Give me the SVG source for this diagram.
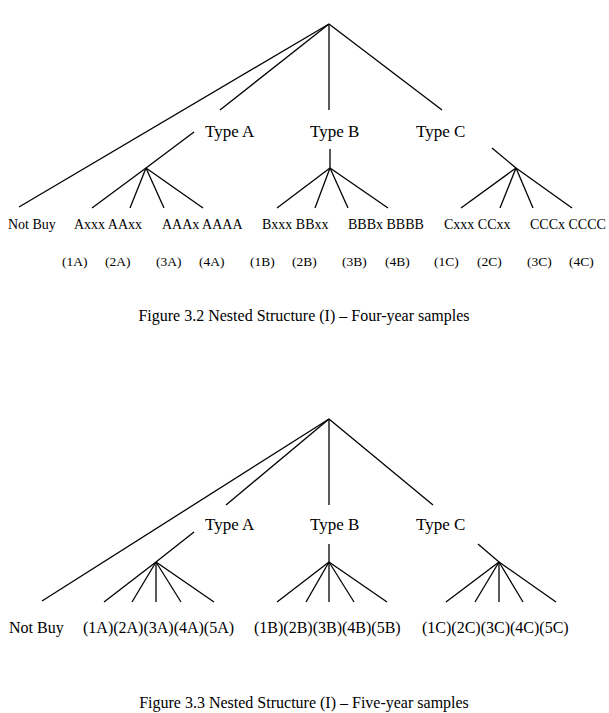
<svg xmlns="http://www.w3.org/2000/svg" width="609" height="713" viewBox="0 0 609 713">
<style>
line{stroke:#000;stroke-width:1.3}
text{font-family:"Liberation Serif",serif;fill:#000}
.t{font-size:17px}.l{font-size:14px}.s{font-size:13.5px}.m{font-size:16px}.c{font-size:16px;text-anchor:middle}
</style>
<rect width="609" height="713" fill="#fff"/>
<g id="connectors">
<line x1="329" y1="24" x2="19" y2="207"/><line x1="329" y1="24" x2="220" y2="110"/><line x1="329" y1="24" x2="329" y2="110"/><line x1="329" y1="24" x2="442" y2="110"/>
<line x1="194" y1="132" x2="146" y2="168"/>
<line x1="146" y1="168" x2="92" y2="208"/><line x1="146" y1="168" x2="130" y2="208"/><line x1="146" y1="168" x2="164" y2="208"/><line x1="146" y1="168" x2="203" y2="208"/>
<line x1="330" y1="149" x2="330" y2="168"/>
<line x1="330" y1="168" x2="277" y2="208"/><line x1="330" y1="168" x2="315" y2="208"/><line x1="330" y1="168" x2="348" y2="208"/><line x1="330" y1="168" x2="388" y2="208"/>
<line x1="492" y1="148" x2="516" y2="168"/>
<line x1="516" y1="168" x2="461" y2="208"/><line x1="516" y1="168" x2="500" y2="208"/><line x1="516" y1="168" x2="533" y2="208"/><line x1="516" y1="168" x2="572" y2="208"/>

<line x1="329" y1="419" x2="42" y2="601"/><line x1="329" y1="419" x2="226" y2="505"/><line x1="329" y1="419" x2="329" y2="505"/><line x1="329" y1="419" x2="433" y2="505"/>
<line x1="194" y1="532" x2="156" y2="562"/>
<line x1="156" y1="562" x2="104" y2="602"/><line x1="156" y1="562" x2="132" y2="602"/><line x1="156" y1="562" x2="156" y2="602"/><line x1="156" y1="562" x2="181" y2="602"/><line x1="156" y1="562" x2="214" y2="602"/>
<line x1="329" y1="544" x2="329" y2="602"/>
<line x1="329" y1="562" x2="277" y2="602"/><line x1="329" y1="562" x2="306" y2="602"/><line x1="329" y1="562" x2="354" y2="602"/><line x1="329" y1="562" x2="387" y2="602"/>
<line x1="478" y1="544" x2="499" y2="562"/>
<line x1="499" y1="562" x2="446" y2="602"/><line x1="499" y1="562" x2="475" y2="602"/><line x1="499" y1="562" x2="499" y2="602"/><line x1="499" y1="562" x2="523" y2="602"/><line x1="499" y1="562" x2="556" y2="602"/>
</g>
<g id="fig32">
<g id="typeA1"><text class="t" x="205" y="137">Type A</text></g>
<g id="typeB1"><text class="t" x="310" y="137">Type B</text></g>
<g id="typeC1"><text class="t" x="416" y="137">Type C</text></g>
<g id="leaves1">
<text class="l" x="8" y="229">Not Buy</text>
<text class="l" x="74" y="229">Axxx AAxx</text>
<text class="l" x="162" y="229">AAAx AAAA</text>
<text class="l" x="262" y="229">Bxxx BBxx</text>
<text class="l" x="348" y="229">BBBx BBBB</text>
<text class="l" x="444" y="229">Cxxx CCxx</text>
<text class="l" x="530" y="229">CCCx CCCC</text>
</g>
<g id="codes1">
<text class="s" x="62" y="266">(1A)</text><text class="s" x="105" y="266">(2A)</text><text class="s" x="156" y="266">(3A)</text><text class="s" x="199" y="266">(4A)</text>
<text class="s" x="250" y="266">(1B)</text><text class="s" x="292" y="266">(2B)</text><text class="s" x="342" y="266">(3B)</text><text class="s" x="385" y="266">(4B)</text>
<text class="s" x="434" y="266">(1C)</text><text class="s" x="477" y="266">(2C)</text><text class="s" x="527" y="266">(3C)</text><text class="s" x="569" y="266">(4C)</text>
</g>
<text class="c" x="304" y="321">Figure 3.2 Nested Structure (I) – Four-year samples</text>
</g>
<g id="fig33">
<g id="typeA2"><text class="t" x="205" y="530">Type A</text></g>
<g id="typeB2"><text class="t" x="310" y="530">Type B</text></g>
<g id="typeC2"><text class="t" x="416" y="530">Type C</text></g>
<g id="leaves2">
<text class="m" x="9" y="633">Not Buy</text>
<text class="m" x="83" y="633">(1A)(2A)(3A)(4A)(5A)</text>
<text class="m" x="254" y="633">(1B)(2B)(3B)(4B)(5B)</text>
<text class="m" x="422" y="633">(1C)(2C)(3C)(4C)(5C)</text>
</g>
<text class="c" x="304" y="708">Figure 3.3 Nested Structure (I) – Five-year samples</text>
</g>
</svg>
